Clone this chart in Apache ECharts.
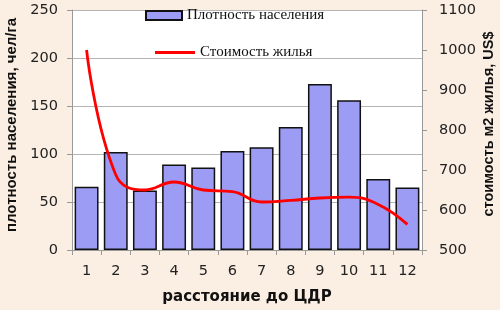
<!DOCTYPE html>
<html>
<head>
<meta charset="utf-8">
<script src="https://cdn.jsdelivr.net/npm/echarts@6/dist/echarts.min.js"></script>
<style>html,body{margin:0;padding:0;background:#fbeee3;}#c{width:500px;height:310px;}</style>
</head>
<body>
<div id="c"></div>
<script>
var categories = ['1','2','3','4','5','6','7','8','9','10','11','12'];
var density = [66, 102, 62, 89, 86, 103, 107, 128, 173, 156, 74, 65];
var cost = [1000, 688, 650, 670, 650, 646, 620, 624, 630, 632, 614, 564];
var leftTicks = [0, 250, 50];
var rightTicks = [500, 1100, 100];
var densityName = 'Плотность населения';
var costName = 'Стоимость жилья';
var xTitle = 'расстояние до ЦДР';
var leftTitle = 'плотность населения, чел/га';
var rightTitle = 'стоимость м2 жилья, US$';

var chart = echarts.init(document.getElementById('c'), null, {renderer: 'canvas'});
var tickFont = {fontFamily: 'DejaVu Sans', fontSize: 14.5, color: '#222'};
chart.setOption({
  backgroundColor: '#fbeee3',
  animation: false,
  grid: {left: 72, right: 78, top: 10, bottom: 53, show: true, backgroundColor: '#ffffff', borderWidth: 0},
  legend: [
    {data: [{name: densityName, icon: 'rect'}], left: 145, top: 8, padding: 0, itemWidth: 36, itemHeight: 9, itemGap: 6,
     textStyle: {fontFamily: 'Liberation Serif', fontSize: 15, color: '#111'}},
    {data: [{name: costName, icon: 'rect'}], left: 155, top: 45, padding: 0, itemWidth: 40, itemHeight: 3, itemGap: 5,
     textStyle: {fontFamily: 'Liberation Serif', fontSize: 15, color: '#111'}}
  ],
  xAxis: {
    type: 'category', data: categories, boundaryGap: true,
    name: xTitle, nameLocation: 'middle', nameGap: 40,
    nameTextStyle: {fontFamily: 'DejaVu Sans', fontWeight: 'bold', fontSize: 15, color: '#111'},
    axisLine: {show: true, lineStyle: {color: '#999', width: 1}},
    axisTick: {show: true, alignWithLabel: false, length: 5, lineStyle: {color: '#999'}},
    axisLabel: Object.assign({margin: 14}, tickFont)
  },
  yAxis: [
    {type: 'value', min: leftTicks[0], max: leftTicks[1], interval: leftTicks[2], position: 'left',
     axisLine: {show: true, lineStyle: {color: '#999'}},
     axisTick: {show: true, length: 5, lineStyle: {color: '#999'}},
     axisLabel: Object.assign({margin: 14, formatter: function (v) { return String(v); }}, tickFont),
     splitLine: {show: true, lineStyle: {color: '#b5b5b5', width: 1}}},
    {type: 'value', min: rightTicks[0], max: rightTicks[1], interval: rightTicks[2], position: 'right',
     axisLine: {show: true, lineStyle: {color: '#999'}},
     axisTick: {show: true, length: 5, lineStyle: {color: '#999'}},
     axisLabel: Object.assign({margin: 17, formatter: function (v) { return String(v); }}, tickFont),
     splitLine: {show: false}}
  ],
  graphic: [
    {type: 'text', x: 12, y: 125, rotation: Math.PI / 2,
     style: {text: leftTitle, fontFamily: 'Liberation Sans', fontWeight: 'bold', fontSize: 15, fill: '#111', align: 'center', verticalAlign: 'middle'}},
    {type: 'text', x: 489, y: 124, rotation: Math.PI / 2,
     style: {text: rightTitle, fontFamily: 'Liberation Sans', fontWeight: 'bold', fontSize: 14.5, fill: '#111', align: 'center', verticalAlign: 'middle'}}
  ],
  series: [
    {name: densityName, type: 'bar', data: density, yAxisIndex: 0, barWidth: '82%',
     itemStyle: {color: '#9c9cf4', borderColor: '#111', borderWidth: 1.5}},
    {name: costName, type: 'line', data: cost, yAxisIndex: 1, smooth: 0.45, symbol: 'none',
     lineStyle: {color: '#ff0000', width: 2.8}, itemStyle: {color: '#ff0000'}}
  ]
});
</script>
</body>
</html>
